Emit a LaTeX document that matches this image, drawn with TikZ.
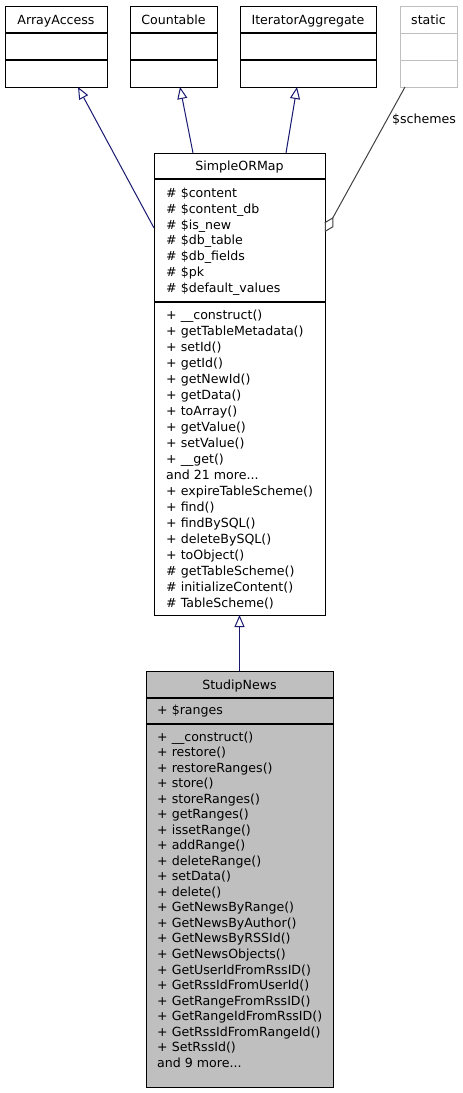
\documentclass[tikz,border=0pt]{standalone}
\usepackage{fontspec}
\setmainfont{DejaVu Sans}
\usetikzlibrary{arrows.meta,calc}
\definecolor{edgeblue}{HTML}{191970}
\definecolor{boxgray}{HTML}{BFBFBF}
\definecolor{edgegray}{HTML}{404040}
\def\threedots{...}
\tikzset{
  classbox/.style={draw=black, line width=1pt, fill=white, inner sep=0pt, outer sep=0pt},
  ghostbox/.style={draw=boxgray, line width=1pt, fill=white, inner sep=0pt, outer sep=0pt},
  sep/.style={line width=1.3pt},
  txt/.style={inner sep=0pt, font=\fontsize{12.6}{15}\selectfont, anchor=base west},
  ttl/.style={inner sep=0pt, font=\fontsize{12.6}{15}\selectfont, anchor=base},
  inh/.style={draw=edgeblue, line width=1pt, -{Triangle[open, length=12pt, width=10pt, fill=white]}},
  agg/.style={draw=edgegray, line width=1pt, -{Diamond[open, length=17pt, width=10pt, fill=white]}},
  lbl/.style={inner sep=0pt, font=\fontsize{12.6}{15}\selectfont, anchor=base}
}
\begin{document}
\begin{tikzpicture}[x=1pt,y=-1pt]
\useasboundingbox (0,0) rectangle (463,1093);
% top classes
\node[classbox, minimum width=102pt, minimum height=81pt] (aa) at (56,46.5) {};
\node[classbox, minimum width=87pt, minimum height=81pt] (cnt) at (173.5,46.5) {};
\node[classbox, minimum width=136pt, minimum height=81pt] (ia) at (308,46.5) {};
\node[ghostbox, minimum width=57pt, minimum height=81pt] (st) at (428.5,46.5) {};
\foreach \n in {aa,cnt,ia}{
  \draw[sep] ($(\n.north west)+(0,27)$) -- ($(\n.north east)+(0,27)$);
  \draw[sep] ($(\n.north west)+(0,54)$) -- ($(\n.north east)+(0,54)$);
}
\draw[draw=boxgray, line width=1pt] ($(st.north west)+(0,27)$) -- ($(st.north east)+(0,27)$);
\draw[draw=boxgray, line width=1pt] ($(st.north west)+(0,54)$) -- ($(st.north east)+(0,54)$);
\node[ttl] (aat) at (56,24) {ArrayAccess};
\node[ttl] (cntt) at (173.5,24) {Countable};
\node[ttl] (iat) at (308,24) {IteratorAggregate};
\node[ttl] (stt) at (428.5,24) {static};

% SimpleORMap
\node[classbox, minimum width=171pt, minimum height=462pt] (sorm) at (239.5,384) {};
\draw[sep] ($(sorm.north west)+(0,26)$) -- ($(sorm.north east)+(0,26)$);
\draw[sep] ($(sorm.north west)+(0,149)$) -- ($(sorm.north east)+(0,149)$);
\node[ttl] (sormt) at (239.5,170.5) {SimpleORMap};
\foreach \t [count=\i from 0] in {\# \$content, \# \$content\_db, \# \$is\_new, \# \$db\_table, \# \$db\_fields, \# \$pk, \# \$default\_values}
  \node[txt] (sa\i) at (166,197.5+15.83*\i) {\t};
\foreach \t [count=\i from 0] in {+ \_\_construct(), + getTableMetadata(), + setId(), + getId(), + getNewId(), + getData(), + toArray(), + getValue(), + setValue(), + \_\_get(), and 21 more\threedots, + expireTableScheme(), + find(), + findBySQL(), + deleteBySQL(), + toObject(), \# getTableScheme(), \# initializeContent(), \# TableScheme()}
  \node[txt] (sm\i) at (166,319.5+16.0*\i) {\t};

% StudipNews
\node[classbox, fill=boxgray, minimum width=187pt, minimum height=416pt] (sn) at (239.5,879) {};
\draw[sep] ($(sn.north west)+(0,27)$) -- ($(sn.north east)+(0,27)$);
\draw[sep] ($(sn.north west)+(0,53)$) -- ($(sn.north east)+(0,53)$);
\node[ttl] (snt) at (239.5,689) {StudipNews};
\node[txt] (sa) at (157,714.5) {+ \$ranges};
\foreach \t [count=\i from 0] in {+ \_\_construct(), + restore(), + restoreRanges(), + store(), + storeRanges(), + getRanges(), + issetRange(), + addRange(), + deleteRange(), + setData(), + delete(), + GetNewsByRange(), + GetNewsByAuthor(), + GetNewsByRSSId(), + GetNewsObjects(), + GetUserIdFromRssID(), + GetRssIdFromUserId(), + GetRangeFromRssID(), + GetRangeIdFromRssID(), + GetRssIdFromRangeId(), + SetRssId(), and 9 more\threedots}
  \node[txt] (snm\i) at (157,741.2+15.52*\i) {\t};

% edges
\draw[inh] ($(sorm.north west)+(0,75)$) -- ($(aa.south)+(22,0)$);
\draw[inh] ($(sorm.north west)+(39,0)$) -- ($(cnt.south)+(6.5,0)$);
\draw[inh] ($(sorm.north west)+(132,0)$) -- ($(ia.south)+(-11,0)$);
\draw[inh] (sn.north) -- (sorm.south);
\draw[agg] ($(st.south)+(-23.5,0)$) -- ($(sorm.north east)+(0,79)$);
\node[lbl] (schemes) at (424,123.5) {\$schemes};
\end{tikzpicture}
\end{document}
